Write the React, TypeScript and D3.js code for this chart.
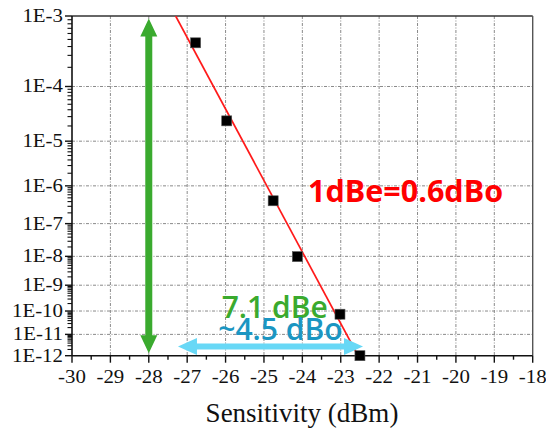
import React from "react";
import * as d3 from "d3";

// ---- data ----
const sensitivity = [-26.78, -25.97, -24.76, -24.13, -23.02, -22.5];
const ber = [4.5e-4, 2.5e-5, 4.2e-7, 9.8e-9, 7.4e-11, 1.0e-12];
const fitSensitivity = [-27.3, -22.55];
const fitBer = [1e-3, 1e-12];
const yExponents = [3, 4, 5, 6, 7, 8, 9, 10, 11, 12];
const yTickLabels = yExponents.map((e) => `1E-${e}`);
const xTicks = d3.range(-30, -17, 1);
const xMinorTicks = d3.range(-29.5, -18, 1);
// annotations (data coords: sensitivity, BER exponent)
const greenArrow = { x: -28, n1: 3.03, n2: 11.88 };
const cyanArrow = { x1: -27.24, x2: -22.42, n: 11.56 };
const labelRatio = { text: "1dBe=0.6dBo", x: -23.85, n: 6.4 };
const labelDbe = { text: "7.1 dBe", x: -26.1, n: 10.3 };
const labelDbo = { text: "~4.5 dBo", x: -26.19, n: 11.25 };

const W = 546;
const H = 430;
const left = 72;
const right = 532.7;
const top = 16;
const bottom = 355.7;

const x = d3.scaleLinear().domain([-30, -18]).range([left, right]);
const yT = d3
  .scaleLinear()
  .domain([Math.log10(3), Math.log10(12)])
  .range([top, bottom]);
const yN = (n: number) => yT(Math.log10(n));
const yB = (b: number) => yN(-Math.log10(b));

const minorY: number[] = [];
for (let e = 4; e <= 12; e++) {
  for (let k = 2; k <= 9; k++) minorY.push(k * Math.pow(10, -e));
}

function vArrow(cx: number, y1: number, y2: number, shaft: number, headW: number, headL: number) {
  const s = shaft / 2;
  const h = headW / 2;
  return `M${cx},${y1} L${cx + h},${y1 + headL} L${cx + s},${y1 + headL} L${cx + s},${y2 - headL} L${cx + h},${y2 - headL} L${cx},${y2} L${cx - h},${y2 - headL} L${cx - s},${y2 - headL} L${cx - s},${y1 + headL} L${cx - h},${y1 + headL} Z`;
}
function hArrow(cy: number, x1: number, x2: number, shaft: number, headW: number, headL: number) {
  const s = shaft / 2;
  const h = headW / 2;
  return `M${x1},${cy} L${x1 + headL},${cy - h} L${x1 + headL},${cy - s} L${x2 - headL},${cy - s} L${x2 - headL},${cy - h} L${x2},${cy} L${x2 - headL},${cy + h} L${x2 - headL},${cy + s} L${x1 + headL},${cy + s} L${x1 + headL},${cy + h} Z`;
}

const serif = '"Liberation Serif"';
const sans = '"Open Sans"';

export default function App() {
  const line = d3
    .line<number>()
    .x((_, i) => x(fitSensitivity[i]))
    .y((b) => yB(b));
  return (
    <div style={{ position: "absolute", left: 0, top: 0 }}>
      <svg width={W} height={H} style={{ display: "block", background: "#fff" }}>
        <defs>
          <clipPath id="plot">
            <rect x={left} y={top} width={right - left} height={bottom - top} />
          </clipPath>
        </defs>
        {/* grid */}
        <g stroke="#8a8a8a" strokeWidth={1} strokeDasharray="3 1.5 1 1.5">
          {xTicks.slice(1, -1).map((t) => (
            <line key={"gx" + t} x1={x(t)} x2={x(t)} y1={top} y2={bottom} />
          ))}
          {yExponents.slice(1, -1).map((e) => (
            <line key={"gy" + e} x1={left} x2={right} y1={yN(e)} y2={yN(e)} />
          ))}
        </g>
        {/* frame */}
        <line x1={left} x2={right} y1={top} y2={top} stroke="#333" strokeWidth={1.6} />
        <line x1={right} x2={right} y1={top} y2={bottom} stroke="#555" strokeWidth={1.4} />
        <line x1={left} x2={left} y1={top} y2={bottom} stroke="#111" strokeWidth={1.6} />
        <line x1={left} x2={right} y1={bottom} y2={bottom} stroke="#111" strokeWidth={1.6} />
        {/* ticks */}
        <g stroke="#111" strokeWidth={1.4}>
          {xTicks.map((t) => (
            <line key={"xt" + t} x1={x(t)} x2={x(t)} y1={bottom} y2={bottom + 7} />
          ))}
          {xMinorTicks.map((t) => (
            <line key={"xm" + t} x1={x(t)} x2={x(t)} y1={bottom} y2={bottom + 4} />
          ))}
          {yExponents.map((e) => (
            <line key={"yt" + e} x1={left - 7} x2={left} y1={yN(e)} y2={yN(e)} />
          ))}
          {minorY.map((b, i) => (
            <line key={"ym" + i} x1={left - 4.5} x2={left} y1={yB(b)} y2={yB(b)} strokeWidth={1.1} />
          ))}
        </g>
        {/* tick labels */}
        {xTicks.map((t) => (
          <text
            key={"xl" + t}
            textAnchor="middle"
            fontSize={18}
            fill="#111"
            style={{ fontFamily: serif }}
            transform={`translate(${x(t)},${bottom + 27.5}) scale(1.16,1)`}
          >
            {d3.format("d")(t).replace("−", "-")}
          </text>
        ))}
        {yExponents.map((e, i) => (
          <text
            key={"yl" + e}
            textAnchor="end"
            fontSize={18}
            fill="#111"
            style={{ fontFamily: serif }}
            transform={`translate(${left - 9},${yN(e) + 6}) scale(1.16,1)`}
          >
            {yTickLabels[i]}
          </text>
        ))}
        <text
          x={302}
          y={422}
          textAnchor="middle"
          style={{ fontFamily: serif }}
          fontSize={27}
          fill="#111"
        >
          Sensitivity (dBm)
        </text>
        {/* fit line */}
        <path
          d={line(fitBer) || ""}
          fill="none"
          stroke="#ff1a1a"
          strokeWidth={1.7}
          clipPath="url(#plot)"
        />
        {/* points */}
        {sensitivity.map((s, i) => (
          <rect
            key={"p" + i}
            x={x(s) - 5}
            y={yB(ber[i]) - 5}
            width={10}
            height={10}
            fill="#000"
            stroke="#555"
            strokeWidth={0.6}
          />
        ))}
        {/* arrows */}
        <path
          d={vArrow(x(greenArrow.x), yN(greenArrow.n1), yN(greenArrow.n2), 7, 17, 18)}
          fill="#3aaa2e"
        />
        <path
          d={hArrow(yN(cyanArrow.n), x(cyanArrow.x1), x(cyanArrow.x2), 6, 17, 19)}
          fill="#68d8f6"
        />
        {/* annotation text */}
        <text x={x(labelRatio.x)} y={yN(labelRatio.n)} style={{ fontFamily: sans }} fontWeight={700} fontSize={30.5} fill="#ff0000">
          {labelRatio.text}
        </text>
        <text x={x(labelDbe.x)} y={yN(labelDbe.n)} style={{ fontFamily: sans }} fontWeight={600} fontSize={30} fill="#3aaa2e">
          {labelDbe.text}
        </text>
        <text x={x(labelDbo.x)} y={yN(labelDbo.n)} style={{ fontFamily: sans }} fontWeight={600} fontSize={30} fill="#1b96c2">
          {labelDbo.text}
        </text>
      </svg>
    </div>
  );
}
